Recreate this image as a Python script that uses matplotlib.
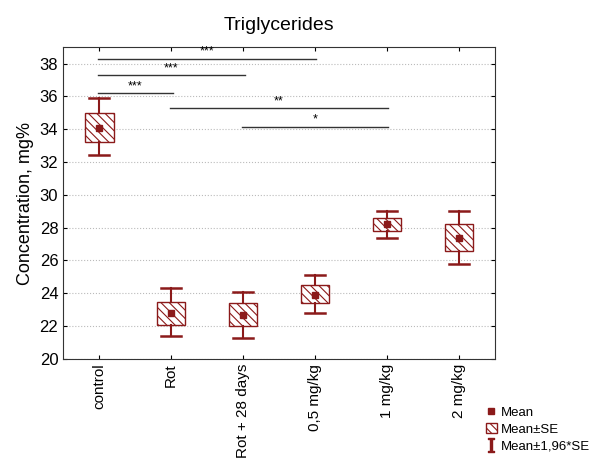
import matplotlib
matplotlib.use("Agg")
import matplotlib.pyplot as plt
from matplotlib.patches import Rectangle, Patch
from matplotlib.lines import Line2D

plt.rcParams['font.family'] = ['Liberation Sans', 'DejaVu Sans']
plt.rcParams['mathtext.fontset'] = 'dejavuserif'
plt.rcParams['hatch.color'] = '#8b1a1a'
plt.rcParams['hatch.linewidth'] = 0.8

# data
groups = ["control", "Rot", "Rot + 28 days", "0,5 mg/kg", "1 mg/kg", "2 mg/kg"]
means = [34.1, 22.8, 22.7, 23.9, 28.2, 27.4]
se_lo = [33.2, 22.1, 22.0, 23.4, 27.8, 26.6]
se_hi = [35.0, 23.5, 23.4, 24.5, 28.6, 28.2]
ci_lo = [32.4, 21.4, 21.3, 22.8, 27.4, 25.8]
ci_hi = [35.9, 24.3, 24.1, 25.1, 29.0, 29.0]

# significance bars: (from group, to group, y, label)
sig_from = [0, 0, 0, 1, 2]
sig_to = [3, 2, 1, 4, 4]
sig_y = [38.3, 37.3, 36.2, 35.3, 34.15]
sig_lab = ["***", "***", "***", "**", "*"]

red = '#8b1a1a'

fig = plt.figure(figsize=(5.9, 4.62), dpi=100)
ax = fig.add_axes([0.107, 0.223, 0.732, 0.675])

x = list(range(len(groups)))
w = 0.4
for i in x:
    ax.add_patch(Rectangle((i - w / 2, se_lo[i]), w, se_hi[i] - se_lo[i],
                           facecolor='white', edgecolor=red, hatch='\\\\\\\\',
                           linewidth=1.0, zorder=3))
    # whiskers
    ax.plot([i, i], [ci_lo[i], se_lo[i]], color=red, lw=1.5, zorder=3)
    ax.plot([i, i], [se_hi[i], ci_hi[i]], color=red, lw=1.5, zorder=3)
    ax.plot([i - 0.14, i + 0.14], [ci_lo[i]] * 2, color=red, lw=1.8, zorder=3)
    ax.plot([i - 0.14, i + 0.14], [ci_hi[i]] * 2, color=red, lw=1.8, zorder=3)

ax.plot(x, means, 's', color=red, markersize=5, zorder=4)

for a, b, y, lab in zip(sig_from, sig_to, sig_y, sig_lab):
    ax.plot([a - 0.02, b + 0.02], [y, y], color='#333333', lw=1.0, zorder=2)
    ax.text((a + b) / 2, y + 0.05, lab, ha='center', va='bottom', fontsize=9)

ax.set_xlim(-0.5, 5.5)
ax.set_ylim(20, 39)
ax.set_yticks(range(20, 39, 2))
ax.set_xticks(x)
ax.set_xticklabels(groups, rotation=90, fontsize=11)
ax.tick_params(axis='y', labelsize=12)
ax.tick_params(direction='in', top=True, right=True, length=3)
ax.yaxis.grid(True, linestyle=':', color='#bbbbbb', linewidth=0.8)
ax.set_axisbelow(True)
ax.set_ylabel("Concentration, mg%", fontsize=13)
ax.set_title("Triglycerides", fontsize=14, pad=12)
for s in ax.spines.values():
    s.set_color('#333333')

handles = [
    Line2D([], [], marker='s', ls='', color=red, markersize=5),
    Patch(facecolor='white', edgecolor=red, hatch='\\\\\\\\'),
    Line2D([], [], marker='$\\mathrm{I}$', ls='', color=red, markersize=10),
]
fig.legend(handles, ["Mean", "Mean±SE", "Mean±1,96*SE"], loc='upper left',
           bbox_to_anchor=(0.808, 0.14), frameon=False, fontsize=9.5,
           handlelength=0.8, handletextpad=0.3, labelspacing=0.35,
           borderpad=0.2)

fig.savefig("out.png", dpi=100)
